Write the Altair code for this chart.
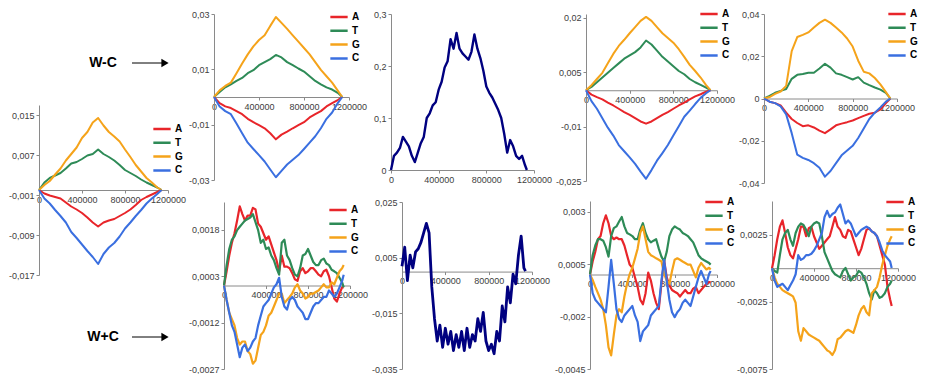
import altair as alt
import pandas as pd

# ---------------- data ----------------
# coarse grid for the smooth W-C panels
POS = [0, 50000, 100000, 150000, 200000, 250000, 300000, 350000, 400000, 450000,
       500000, 550000, 600000, 650000, 700000, 750000, 800000, 850000, 900000, 950000,
       1000000, 1050000, 1100000, 1140000]
# finer grid for the noisy panels
POS_FINE = [0, 25000, 50000, 75000, 100000, 125000, 150000, 175000, 200000, 225000,
            250000, 275000, 300000, 325000, 350000, 375000, 400000, 425000, 450000, 475000,
            500000, 525000, 550000, 575000, 600000, 625000, 650000, 675000, 700000, 725000,
            750000, 775000, 800000, 825000, 850000, 875000, 900000, 925000, 950000, 975000,
            1000000, 1025000, 1050000, 1075000, 1100000, 1125000, 1140000]
BASES = ["A", "T", "G", "C"]
COLORS = ["#e8252a", "#2e8b57", "#f5a31a", "#3a6fe0"]
NAVY = "#000080"
XTICKS = [0, 400000, 800000, 1200000]
ARROW_LABELS = ["W-C", "W+C"]

# panel 0 (left)
P0_A = [0, -0.0007, -0.0011, -0.0014, -0.0017, -0.0025, -0.0033, -0.0039, -0.0046, -0.0055, -0.0065, -0.0073, -0.0065, -0.0061, -0.0058, -0.0052, -0.0046, -0.0039, -0.0030, -0.0020, -0.0014, -0.0009, -0.0004, 0]
P0_T = [0, 0.0015, 0.0024, 0.0029, 0.0034, 0.0043, 0.0053, 0.0056, 0.0062, 0.0069, 0.0072, 0.0081, 0.0072, 0.0066, 0.0059, 0.0050, 0.0040, 0.0034, 0.0028, 0.0021, 0.0015, 0.0010, 0.0005, 0]
P0_G = [0, 0.0010, 0.0018, 0.0031, 0.0043, 0.0059, 0.0072, 0.0085, 0.0104, 0.0116, 0.0135, 0.0144, 0.0129, 0.0116, 0.0107, 0.0097, 0.0081, 0.0066, 0.0050, 0.0037, 0.0024, 0.0015, 0.0005, 0]
P0_C = [0, -0.0017, -0.0027, -0.0040, -0.0052, -0.0065, -0.0084, -0.0096, -0.0109, -0.0122, -0.0134, -0.0148, -0.0128, -0.0115, -0.0106, -0.0093, -0.0077, -0.0065, -0.0052, -0.0040, -0.0027, -0.0017, -0.0008, 0]

# column 1, top (W-C)
C1T_A = [0, -0.0022, -0.0034, -0.0040, -0.0051, -0.0062, -0.0079, -0.0091, -0.0102, -0.0113, -0.0131, -0.0153, -0.0136, -0.0125, -0.0113, -0.0102, -0.0091, -0.0074, -0.0062, -0.0051, -0.0034, -0.0022, -0.0011, 0]
C1T_T = [0, 0.0018, 0.0035, 0.0046, 0.0058, 0.0069, 0.0086, 0.0097, 0.0115, 0.0126, 0.0137, 0.0152, 0.0143, 0.0126, 0.0115, 0.0103, 0.0092, 0.0075, 0.0058, 0.0046, 0.0035, 0.0027, 0.0015, 0]
C1T_G = [0, 0.0024, 0.0040, 0.0052, 0.0086, 0.0121, 0.0154, 0.0183, 0.0206, 0.0223, 0.0257, 0.0289, 0.0268, 0.0246, 0.0223, 0.0200, 0.0177, 0.0154, 0.0126, 0.0098, 0.0075, 0.0052, 0.0023, 0]
C1T_C = [0, -0.0034, -0.0051, -0.0062, -0.0096, -0.0131, -0.0165, -0.0188, -0.0210, -0.0233, -0.0262, -0.0290, -0.0267, -0.0244, -0.0227, -0.0210, -0.0188, -0.0165, -0.0142, -0.0113, -0.0079, -0.0056, -0.0022, 0]

# column 1, bottom (W+C), units of 1e-4, fine grid
C1B_A = [0, 4.6, 9.7, 13.8, 16.9, 21.0, 25.6, 23.1, 21.0, 22.6, 22.6, 25.1, 24.6, 20.0, 19.0, 16.9, 14.8, 15.9, 13.3, 10.7, 8.2, 4.6, 9.7, 6.1, 6.1, 5.6, 4.0, 2.0, 1.5, 4.6, 5.6, 4.0, 4.6, 5.6, 5.6, 4.6, 3.5, 3.0, 4.6, 5.1, 3.0, -0.6, -4.2, -5.2, -2.6, -0.6, -0.6]
C1B_T = [0, 6.6, 11.8, 14.8, 15.9, 17.9, 19.0, 20.0, 21.0, 21.5, 22.0, 23.1, 20.5, 17.9, 13.8, 14.8, 11.8, 12.3, 9.7, 8.2, 5.6, 3.5, 13.8, 14.8, 9.7, 8.2, 5.6, 3.5, 3.0, 5.6, 9.7, 10.2, 11.8, 9.7, 7.6, 6.6, 6.6, 8.2, 8.7, 7.1, 6.6, 5.1, 4.6, 4.0, 2.5, 1.0, -0.6]
C1B_G = [0, -4.7, -8.8, -10.9, -12.9, -17.0, -19.1, -18.1, -18.1, -21.2, -22.2, -25.3, -24.3, -20.1, -16.0, -15.0, -12.9, -9.8, -8.8, -6.8, -4.7, -2.6, -2.6, -5.7, -4.7, -3.7, -2.6, -0.6, 0.4, -1.6, -2.6, -4.2, -3.7, -2.6, -2.6, -2.1, -1.6, -0.6, 0.4, -0.6, -0.6, 1.0, 0.4, 2.5, 4.6, 5.6, 6.6]
C1B_C = [0, -4.7, -8.8, -12.9, -15.0, -19.1, -23.2, -20.1, -19.1, -21.2, -20.1, -18.1, -17.0, -12.9, -9.8, -6.8, -5.7, -4.7, -2.6, -0.6, 0.4, 2.5, -3.7, -6.8, -7.8, -4.7, -3.7, -4.7, -6.8, -7.8, -8.8, -10.9, -10.9, -8.8, -6.8, -5.7, -5.7, -4.7, -3.7, -3.7, -1.6, -2.6, -3.7, -2.6, -0.6, 1.5, 3.5]

# column 2 (single curves), fine grid
C2T_S = [0, 0.0273, 0.0333, 0.0424, 0.0636, 0.0545, 0.0455, 0.0273, 0.0152, 0.0333, 0.0515, 0.0636, 0.1000, 0.1091, 0.1242, 0.1303, 0.1545, 0.1697, 0.1970, 0.2091, 0.2515, 0.2333, 0.2636, 0.2333, 0.2242, 0.2182, 0.2121, 0.2273, 0.2606, 0.2333, 0.2152, 0.1909, 0.1606, 0.1485, 0.1394, 0.1273, 0.1152, 0.1000, 0.0697, 0.0333, 0.0576, 0.0455, 0.0273, 0.0212, 0.0273, 0.0091, 0]
# units of 1e-4
C2B_S = [19.1, 87.7, -32.3, 59.1, 13.4, 70.6, 82.0, 104.9, 139.1, 173.4, 139.1, -55.1, -169.4, -249.4, -192.3, -272.3, -203.7, -260.9, -215.1, -283.7, -226.6, -272.3, -215.1, -283.7, -203.7, -272.3, -226.6, -249.4, -169.4, -215.1, -146.6, -249.4, -283.7, -260.9, -295.1, -215.1, -249.4, -123.7, -180.9, -55.1, -112.3, -9.4, -43.7, 59.1, 127.7, 13.4, 2.0]

# column 3, top (W-C)
C3T_A = [0, -0.0012, -0.0019, -0.0025, -0.0034, -0.0042, -0.0051, -0.0060, -0.0068, -0.0077, -0.0086, -0.0092, -0.0086, -0.0077, -0.0068, -0.0060, -0.0051, -0.0042, -0.0034, -0.0025, -0.0017, -0.0011, -0.0004, 0]
C3T_T = [0, 0.0009, 0.0022, 0.0035, 0.0048, 0.0061, 0.0074, 0.0087, 0.0096, 0.0105, 0.0118, 0.0137, 0.0126, 0.0109, 0.0092, 0.0079, 0.0066, 0.0053, 0.0044, 0.0031, 0.0022, 0.0015, 0.0007, 0]
C3T_G = [0, 0.0014, 0.0031, 0.0048, 0.0074, 0.0100, 0.0122, 0.0139, 0.0157, 0.0174, 0.0191, 0.0202, 0.0191, 0.0174, 0.0157, 0.0144, 0.0131, 0.0113, 0.0092, 0.0070, 0.0053, 0.0035, 0.0014, 0]
C3T_C = [0, -0.0030, -0.0051, -0.0077, -0.0103, -0.0125, -0.0151, -0.0168, -0.0185, -0.0203, -0.0224, -0.0244, -0.0220, -0.0194, -0.0173, -0.0151, -0.0125, -0.0099, -0.0073, -0.0056, -0.0038, -0.0021, -0.0008, 0]

# column 3, bottom (W+C), units of 1e-4, fine grid
C3B_A = [0, 6.2, 10.8, 16.8, 18.3, 24.4, 28.2, 24.4, 18.3, 16.8, 17.6, 16.8, 16.8, 13.8, 9.2, 4.7, 3.2, -1.4, -5.9, -12.0, -14.2, -8.9, 0.9, -2.9, -8.9, -13.5, -16.5, -4.4, 6.9, -1.4, -5.2, -7.4, -8.2, -8.9, -10.5, -8.9, -7.4, -8.9, -8.9, -6.7, -5.9, -8.9, -7.4, -5.9, -4.4, -3.6, -3.6]
C3B_T = [0, 9.2, 13.8, 16.8, 16.8, 16.1, 13.0, 8.5, 18.3, 22.1, 22.9, 25.2, 27.4, 22.9, 19.8, 19.1, 18.3, 16.8, 16.8, 21.4, 24.4, 19.8, 16.8, 15.3, 16.1, 16.8, 12.3, 8.5, 6.2, 10.8, 18.3, 21.4, 22.9, 22.1, 21.4, 19.8, 19.1, 18.3, 16.8, 15.3, 12.3, 9.2, 7.7, 6.9, 6.2, 5.5, 4.7]
C3B_G = [0, -2.6, -5.9, -8.9, -12.0, -16.5, -24.1, -34.7, -38.5, -28.6, -19.5, -16.5, -18.0, -10.5, -4.4, 0.2, 3.2, 7.7, 12.3, 19.8, 22.9, 16.8, 10.8, 9.2, 8.5, 7.7, 7.0, 6.2, 0.2, -2.9, -4.4, 1.7, 7.0, 7.7, 7.0, 6.2, 5.5, 4.7, 4.7, 1.7, -1.4, 3.2, 5.5, 3.9, 2.4, 3.2, 2.4]
C3B_C = [0, -8.9, -12.0, -13.5, -15.0, -16.5, -18.0, -5.9, 7.0, -4.4, -16.5, -21.1, -22.6, -19.5, -18.0, -16.5, -15.0, -19.5, -22.6, -31.7, -27.1, -25.6, -24.1, -19.5, -18.0, -16.5, -15.0, -2.9, 7.0, -2.9, -12.0, -18.0, -20.3, -18.0, -16.5, -13.5, -12.0, -13.5, -15.0, -10.5, -5.9, -1.4, 1.7, -1.4, -4.4, 0.2, 1.7]

# column 4, top (W-C)
C4T_A = [0, -0.0015, -0.0022, -0.0033, -0.0067, -0.0097, -0.0116, -0.0131, -0.0127, -0.0137, -0.0152, -0.0164, -0.0146, -0.0127, -0.0119, -0.0112, -0.0104, -0.0093, -0.0082, -0.0072, -0.0067, -0.0052, -0.0022, 0]
C4T_T = [0, 0.0012, 0.0027, 0.0036, 0.0045, 0.0093, 0.0112, 0.0116, 0.0122, 0.0122, 0.0142, 0.0164, 0.0146, 0.0119, 0.0112, 0.0101, 0.0090, 0.0101, 0.0075, 0.0063, 0.0052, 0.0042, 0.0027, 0]
C4T_G = [0, 0.0007, 0.0022, 0.0033, 0.0060, 0.0224, 0.0291, 0.0301, 0.0313, 0.0336, 0.0358, 0.0373, 0.0358, 0.0336, 0.0313, 0.0284, 0.0246, 0.0179, 0.0127, 0.0119, 0.0097, 0.0067, 0.0030, 0]
C4T_C = [0, -0.0015, -0.0022, -0.0037, -0.0075, -0.0164, -0.0266, -0.0281, -0.0291, -0.0306, -0.0328, -0.0370, -0.0343, -0.0306, -0.0269, -0.0246, -0.0224, -0.0187, -0.0142, -0.0097, -0.0067, -0.0042, -0.0015, 0]

# column 4, bottom (W+C), units of 1e-4, fine grid
C4B_A = [0, 9.7, 21.5, 30.9, 35.6, 26.2, 15.6, 9.7, 7.3, 14.4, 21.5, 30.9, 30.9, 23.8, 29.7, 30.9, 23.8, 19.1, 14.4, 16.7, 19.1, 21.5, 23.8, 30.9, 38.0, 30.9, 28.5, 23.8, 22.6, 28.5, 27.4, 21.5, 15.6, 9.7, 14.4, 21.5, 28.5, 29.7, 27.4, 26.2, 23.8, 16.7, 9.7, 2.6, -13.9, -23.3, -28.1]
C4B_T = [0, -2.1, -3.3, 9.7, 21.5, 26.2, 28.5, 21.5, 16.7, 26.2, 30.9, 33.3, 32.1, 28.5, 23.8, 30.9, 33.3, 34.4, 33.3, 23.8, 12.0, 7.3, 2.6, -2.1, -4.5, -5.7, -6.8, -2.1, 0.2, -4.5, -9.2, -6.8, -5.7, -2.1, -3.3, -6.8, -11.6, -18.6, -23.3, -16.3, -18.6, -22.1, -21.0, -18.6, -13.9, -11.6, -9.2]
C4B_G = [0, -6.8, -11.6, -13.9, -16.3, -17.5, -18.6, -19.8, -21.0, -25.7, -46.9, -54.0, -44.6, -46.9, -49.3, -50.5, -51.7, -52.9, -54.0, -56.4, -58.7, -61.1, -62.3, -64.6, -61.1, -52.9, -51.7, -49.3, -46.9, -45.8, -46.9, -48.1, -42.2, -35.1, -30.4, -28.1, -32.8, -35.1, -18.6, -16.3, -13.9, -6.8, 2.6, 9.7, 16.7, 21.5, 23.8]
C4B_C = [0, -9.2, -13.9, -12.7, -11.6, -13.9, -16.3, -12.7, -9.2, -4.5, 9.7, 6.2, 7.3, 9.7, 9.7, 10.8, 13.2, 16.7, 21.5, 26.2, 38.0, 42.7, 38.0, 40.3, 41.5, 45.0, 47.4, 40.3, 33.3, 35.6, 33.3, 28.5, 23.8, 26.2, 28.5, 29.7, 30.9, 29.7, 27.4, 26.2, 23.8, 19.1, 13.2, 9.7, 7.3, 5.0, 0.2]

# ---------------- panel definitions ----------------
# box = (left, top, right, bottom) of each plot area in chart pixels; legend = (x, y)
PANELS = [
    dict(series=dict(A=P0_A, T=P0_T, G=P0_G, C=P0_C), pos=POS, unit=1, domain=[-0.017, 0.017],
         ticks=[-0.017, -0.009, -0.001, 0.007, 0.015], box=(29, 97, 158, 267), legend=(142, 115), sw=2),
    dict(series=dict(A=C1T_A, T=C1T_T, G=C1T_G, C=C1T_C), pos=POS, unit=1, domain=[-0.03, 0.03],
         ticks=[-0.03, -0.01, 0.01, 0.03], box=(204, 6, 339, 172), legend=(319, 3), sw=2),
    dict(series=dict(A=C1B_A, T=C1B_T, G=C1B_G, C=C1B_C), pos=POS_FINE, unit=1e-4, domain=[-0.0027, 0.0027],
         ticks=[-0.0027, -0.0012, 0.0003, 0.0018], box=(214, 194, 340, 361), legend=(318, 196), sw=2.2),
    dict(series=dict(S=C2T_S), pos=POS_FINE, unit=1, domain=[0, 0.3],
         ticks=[0, 0.1, 0.2, 0.3], box=(381, 6, 524, 162), legend=None, sw=2.4),
    dict(series=dict(S=C2B_S), pos=POS_FINE, unit=1e-4, domain=[-0.035, 0.025],
         ticks=[-0.035, -0.015, 0.005, 0.025], box=(392, 194, 522, 361), legend=None, sw=2.8),
    dict(series=dict(A=C3T_A, T=C3T_T, G=C3T_G, C=C3T_C), pos=POS, unit=1, domain=[-0.025, 0.021],
         ticks=[-0.025, -0.01, 0.005, 0.02], box=(576, 6, 707, 173), legend=(689, 0), sw=2),
    dict(series=dict(A=C3B_A, T=C3B_T, G=C3B_G, C=C3B_C), pos=POS_FINE, unit=1e-4, domain=[-0.0045, 0.0035],
         ticks=[-0.0045, -0.002, 0.0005, 0.003], box=(580, 193, 707, 361), legend=(694, 188), sw=2.2),
    dict(series=dict(A=C4T_A, T=C4T_T, G=C4T_G, C=C4T_C), pos=POS, unit=1, domain=[-0.04, 0.04],
         ticks=[-0.04, -0.02, 0, 0.02, 0.04], box=(754, 6, 887, 175), legend=(877, 0), sw=2),
    dict(series=dict(A=C4B_A, T=C4B_T, G=C4B_G, C=C4B_C), pos=POS_FINE, unit=1e-4, domain=[-0.0075, 0.005],
         ticks=[-0.0075, -0.0025, 0.0025], box=(762, 193, 888, 361), legend=(875, 188), sw=2.2),
]

FONT = "Liberation Sans"
W, H = 860, 362
LABEL_EXPR = "replace(replace(format(datum.value, '~g'), '.', ','), '\u2212', '-')"

layers = []
for p in PANELS:
    L, T, R, B = p["box"]
    lo, hi = p["domain"]
    y_cross = B - (max(lo, 0) - lo) / (hi - lo) * (B - T)
    rows = []
    for base, vals in p["series"].items():
        assert len(vals) == len(p["pos"]), (base, len(vals))
        for xv, yv in zip(p["pos"], vals):
            rows.append({"pos": xv, "skew": yv * p["unit"], "base": base})
    df = pd.DataFrame(rows)
    xenc = alt.X("pos:Q",
                 scale=alt.Scale(domain=[0, 1200000], range=[L, R], nice=False, zero=False),
                 axis=alt.Axis(orient="bottom", offset=y_cross - H, values=XTICKS, format="d",
                               title=None, grid=False, labelFlush=False, labelOverlap=False))
    yenc = alt.Y("skew:Q",
                 scale=alt.Scale(domain=[lo, hi], range=[B, T], nice=False, zero=False),
                 axis=alt.Axis(orient="left", offset=-L, values=p["ticks"], labelExpr=LABEL_EXPR,
                               title=None, grid=False, labelOverlap=False))
    if p["legend"] is None:
        ch = alt.Chart(df).mark_line(color=NAVY, strokeWidth=p["sw"], strokeJoin="round").encode(x=xenc, y=yenc)
    else:
        lx, ly = p["legend"]
        ch = alt.Chart(df).mark_line(strokeWidth=p["sw"], strokeJoin="round").encode(
            x=xenc, y=yenc,
            color=alt.Color("base:N", scale=alt.Scale(domain=BASES, range=COLORS),
                            legend=alt.Legend(orient="none", legendX=lx, legendY=ly, title=None,
                                              symbolType="stroke", symbolSize=300,
                                              symbolStrokeWidth=2.5, clipHeight=12,
                                              rowPadding=1.8, labelOffset=3, padding=0,
                                              labelFont=FONT, labelFontSize=10,
                                              labelFontWeight="bold", labelColor="black")),
        )
    layers.append(ch)

# annotations "W-C" / "W+C" with arrows
ann_y = [55, 329]
for lab, yy in zip(ARROW_LABELS, ann_y):
    t = alt.Chart(pd.DataFrame({"t": [lab]})).mark_text(
        font=FONT, fontSize=14, fontWeight="bold", color="black", align="center", baseline="middle"
    ).encode(x=alt.value(93), y=alt.value(yy), text="t:N")
    r = alt.Chart(pd.DataFrame({"t": [lab]})).mark_rule(color="black", strokeWidth=1).encode(
        x=alt.value(122), x2=alt.value(152), y=alt.value(yy))
    h = alt.Chart(pd.DataFrame({"t": [lab]})).mark_point(
        shape="triangle-right", filled=True, color="black", size=70, opacity=1
    ).encode(x=alt.value(155), y=alt.value(yy))
    layers += [t, r, h]

chart = (
    alt.layer(*layers)
    .resolve_scale(x="independent", y="independent", color="independent")
    .resolve_axis(x="independent", y="independent")
    .resolve_legend(color="independent")
    .properties(width=W, height=H, padding=0, background="white")
    .configure_view(stroke=None)
    .configure_axis(domainColor="#8a8a8a", tickColor="#8a8a8a", labelColor="#404040",
                    labelFont=FONT, labelFontSize=9, tickSize=3, labelPadding=2,
                    domainWidth=1, tickWidth=1)
)

chart.save("out.html", embed_options={"renderer": "svg", "actions": False})
